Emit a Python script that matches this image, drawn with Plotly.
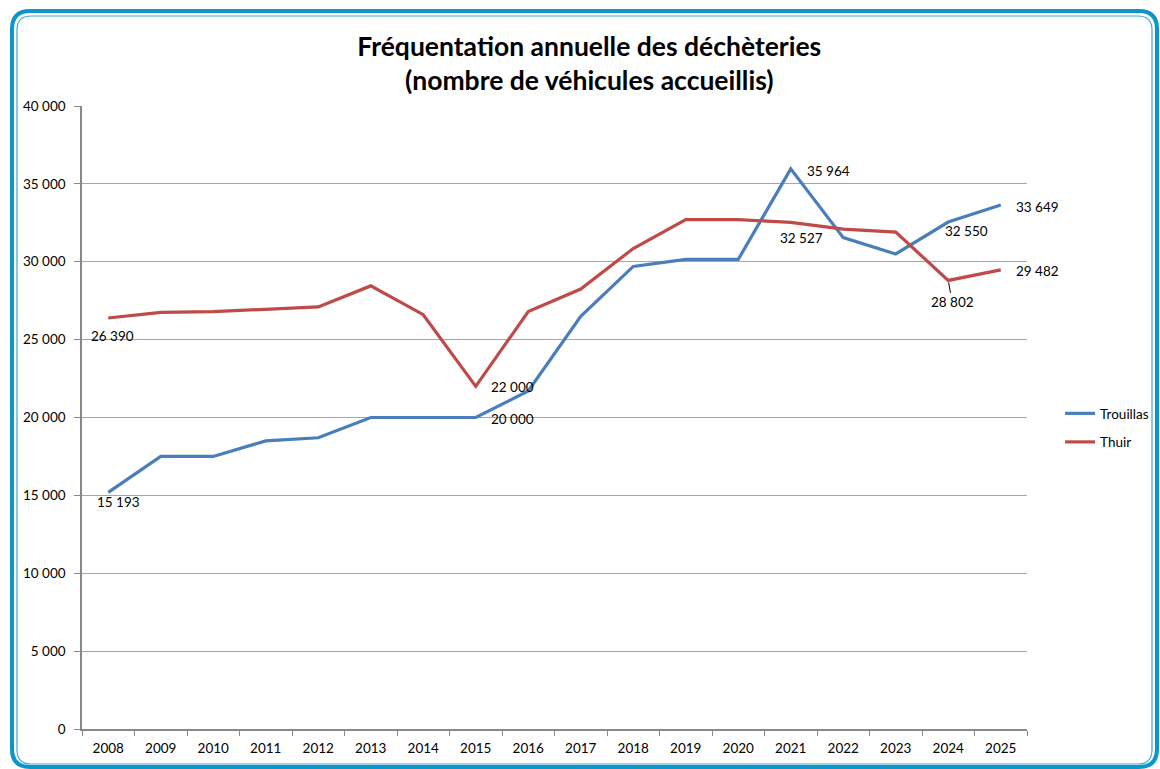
import plotly.graph_objects as go

# Annual visits (vehicles received) at the two recycling centres
years = [str(y) for y in range(2008, 2026)]
trouillas = [15193, 17500, 17500, 18500, 18700, 20000, 20000, 20000, 21700,
             26500, 29700, 30150, 30150, 35964, 31550, 30500, 32550, 33649]
thuir = [26390, 26750, 26800, 26950, 27100, 28450, 26600, 22000, 26800,
         28250, 30850, 32700, 32700, 32527, 32100, 31900, 28802, 29482]

BLUE = "#4A7EBB"
RED = "#BE4B48"
FONT = "Lato, 'Open Sans', sans-serif"

W, H = 1160, 769
ML, MR, MT, MB = 82, 133, 106, 40
PW, PH = W - ML - MR, H - MT - MB


def px(x, y):
    """Pixel position on the page -> paper coordinates."""
    return (x - ML) / PW, 1 - (y - MT) / PH


def rounded_rect(x0, y0, x1, y1, r):
    pts = []
    a = px(x0 + r, y0); pts.append(f"M {a[0]},{a[1]}")
    a = px(x1 - r, y0); pts.append(f"L {a[0]},{a[1]}")
    c = px(x1, y0); e = px(x1, y0 + r); pts.append(f"Q {c[0]},{c[1]} {e[0]},{e[1]}")
    a = px(x1, y1 - r); pts.append(f"L {a[0]},{a[1]}")
    c = px(x1, y1); e = px(x1 - r, y1); pts.append(f"Q {c[0]},{c[1]} {e[0]},{e[1]}")
    a = px(x0 + r, y1); pts.append(f"L {a[0]},{a[1]}")
    c = px(x0, y1); e = px(x0, y1 - r); pts.append(f"Q {c[0]},{c[1]} {e[0]},{e[1]}")
    a = px(x0, y0 + r); pts.append(f"L {a[0]},{a[1]}")
    c = px(x0, y0); e = px(x0 + r, y0); pts.append(f"Q {c[0]},{c[1]} {e[0]},{e[1]}")
    pts.append("Z")
    return " ".join(pts)


fig = go.Figure()
fig.add_trace(go.Scatter(x=years, y=trouillas, mode="lines", name="Trouillas",
                         legendgroup="trouillas",
                         line=dict(color=BLUE, width=3.2)))
fig.add_trace(go.Scatter(x=years, y=thuir, mode="lines", name="Thuir",
                         legendgroup="thuir",
                         line=dict(color=RED, width=3.2)))


def fmt(v):
    return f"{v:,}".replace(",", " ")


# value labels: (series, year index, xanchor, xshift, yshift)
labels = [
    (thuir, 0, "center", 4, -18),
    (trouillas, 0, "center", 10, -10),
    (thuir, 7, "left", 13, -1),
    (trouillas, 7, "left", 13, -1),
    (trouillas, 13, "left", 14, -2),
    (thuir, 13, "center", 11, -16),
    (trouillas, 16, "center", 18, -9),
    (trouillas, 17, "left", 13, -2),
    (thuir, 17, "left", 13, -1),
]
annotations = []
for series, i, xa, xs, ys in labels:
    # category axis: position given by category index
    annotations.append(dict(x=i, y=series[i], xref="x", yref="y",
                            text=fmt(series[i]), showarrow=False, xanchor=xa,
                            yanchor="middle", xshift=xs, yshift=ys,
                            font=dict(family=FONT, size=13.5, color="black")))
# label with leader line
annotations.append(dict(x=16, y=thuir[16], xref="x", yref="y",
                        text=fmt(thuir[16]), showarrow=True, arrowhead=0,
                        arrowwidth=1, arrowcolor="black", ax=4, ay=22,
                        standoff=2, font=dict(family=FONT, size=13.5, color="black")))

shapes = [
    dict(type="path", xref="paper", yref="paper",
         path=rounded_rect(12, 11, 1157, 767, 18),
         line=dict(color="#0B95CB", width=4), layer="below"),
    dict(type="path", xref="paper", yref="paper",
         path=rounded_rect(17, 16, 1152, 764, 14),
         line=dict(color="#3AAAD8", width=1.2), layer="below"),
]

fig.update_layout(
    width=W, height=H,
    margin=dict(l=ML, r=MR, t=MT, b=MB, autoexpand=False),
    paper_bgcolor="white", plot_bgcolor="white",
    separators=", ",
    font=dict(family=FONT, size=13, color="black"),
    title=dict(text="<b>Fréquentation annuelle des déchèteries<br>(nombre de véhicules accueillis)</b>",
               x=0.508, xanchor="center", y=1 - 56 / H, yanchor="middle",
               font=dict(family=FONT, size=26.5, color="black")),
    xaxis=dict(type="category", range=[-0.5, 17.5], tickson="boundaries",
               ticks="outside", ticklen=5, tickcolor="#888888",
               ticklabelstandoff=6,
               showline=True, linecolor="#888888", linewidth=1.5,
               showgrid=False, tickfont=dict(size=13.5), fixedrange=True),
    yaxis=dict(range=[0, 40000], dtick=5000, tickformat=",d",
               ticks="outside", ticklen=6, tickcolor="#888888",
               ticklabelstandoff=6,
               showline=True, linecolor="#888888", linewidth=1.5,
               gridcolor="#A6A6A6", gridwidth=1, zeroline=False,
               tickfont=dict(size=13.5), fixedrange=True),
    legend=dict(x=1.035, y=0.483, xanchor="left", yanchor="middle",
                font=dict(size=13.5), bgcolor="rgba(0,0,0,0)", tracegroupgap=8),
    annotations=annotations,
    shapes=shapes,
    showlegend=True,
)

fig.write_html("out.html")
